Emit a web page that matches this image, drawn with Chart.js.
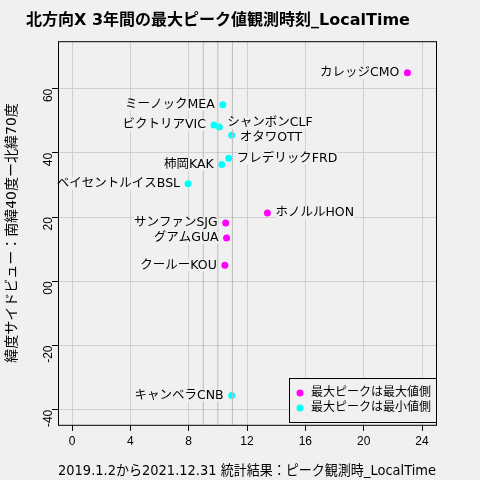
<!DOCTYPE html>
<html><head><meta charset="utf-8">
<script src="https://cdn.jsdelivr.net/npm/chart.js@4"></script>
<style>html,body{margin:0;background:#f0f0f0}canvas{display:block}</style>
</head><body>
<canvas id="c" width="480" height="480"></canvas>
<script>
const names = ['カレッジCMO','ミーノックMEA','ビクトリアVIC','シャンボンCLF','オタワOTT','フレデリックFRD','柿岡KAK','ベイセントルイスBSL','ホノルルHON','サンファンSJG','グアムGUA','クールーKOU','キャンベラCNB'];
const hours = [23.0,10.34,9.73,10.1,10.95,10.75,10.27,7.96,13.4,10.54,10.6,10.48,10.95];
const lats = [65.0,55.0,48.7,48.1,45.5,38.3,36.4,30.4,21.3,18.2,13.5,5.0,-35.6];
const isMax = [1,0,0,0,0,0,0,0,1,1,1,1,0];
const side = ['L','L','L','R','R','R','L','L','R','L','L','L','L'];
const refHours = [9,10,11];
const xTicks = [0,4,8,12,16,20,24];
const yTicks = [-40,-20,0,20,40,60];
const yTickText = {'-40':'-40','-20':'-20','0':'00','20':'20','40':'40','60':'60'};
const nudge = {'シャンボンCLF':[0,-4],'オタワOTT':[0,2]};

const pts = hours.map((h,i)=>({x:h,y:lats[i],n:names[i],s:side[i]}));
const refSets = refHours.map(h=>({type:'line',data:[{x:h,y:-100},{x:h,y:100}],borderColor:'#bbbbbb',borderWidth:1,pointRadius:0,showLine:true}));

const labelPlugin = {
  id:'lbl',
  afterDatasetsDraw(chart){
    const ctx=chart.ctx;
    ctx.save();
    ctx.font='12.5px "DejaVu Sans","Noto Sans CJK JP"';
    ctx.textBaseline='middle';
    chart.data.datasets.forEach((ds,di)=>{
      if(!ds.lbl) return;
      chart.getDatasetMeta(di).data.forEach((el,j)=>{
        const p=ds.data[j];
        const d=nudge[p.n]||[0,0];
        ctx.textAlign=p.s==='L'?'right':'left';
        const tx=el.x+(p.s==='L'?-8:8)+d[0], ty=el.y+d[1];
        const w=ctx.measureText(p.n).width;
        ctx.fillStyle='#f0f0f0';
        ctx.fillRect(p.s==='L'?tx-w:tx, ty-6, w, 12);
        ctx.fillStyle='#000';
        ctx.fillText(p.n, tx, ty);
      });
    });
    const a=chart.chartArea;
    ctx.strokeStyle='#000';ctx.lineWidth=1;
    ctx.strokeRect(a.left+0.5,a.top+0.5,a.right-a.left,a.bottom-a.top);
    const lx=289,ly=378,lw=147,lh=44;
    ctx.fillStyle='#f0f0f0';ctx.fillRect(lx,ly,lw,lh);
    ctx.strokeStyle='#000';ctx.strokeRect(lx+0.5,ly+0.5,lw,lh);
    ctx.font='12px "DejaVu Sans","Noto Sans CJK JP"';
    [['#ff00ff','最大ピークは最大値側'],['#00ffff','最大ピークは最小値側']].forEach((e,k)=>{
      const yy=ly+15+k*15;
      ctx.fillStyle=e[0];ctx.beginPath();ctx.arc(lx+11,yy,3.5,0,Math.PI*2);ctx.fill();
      ctx.fillStyle='#000';ctx.textAlign='left';ctx.fillText(e[1],lx+22,yy);
    });
    ctx.restore();
  }
};

new Chart(document.getElementById('c'),{
  type:'scatter',
  data:{datasets:[
    ...refSets,
    {data:pts.filter((p,i)=>isMax[i]),backgroundColor:'#ff00ff',borderWidth:0,pointRadius:3.5,lbl:true},
    {data:pts.filter((p,i)=>!isMax[i]),backgroundColor:'#00ffff',borderWidth:0,pointRadius:3.5,lbl:true}
  ]},
  options:{
    responsive:false,animation:false,
    layout:{padding:{left:0,right:44,top:0,bottom:0}},
    plugins:{legend:{display:false},tooltip:{enabled:false},
      title:{display:true,text:'北方向X 3年間の最大ピーク値観測時刻_LocalTime',color:'#000',font:{size:16,weight:'bold',family:'"DejaVu Sans","Noto Sans CJK JP"'},padding:{top:11,bottom:11}}},
    scales:{
      x:{type:'linear',min:-0.96,max:24.96,
        afterBuildTicks(s){s.ticks=xTicks.map(v=>({value:v}));},
        grid:{color:'#d0d0d0',drawTicks:true,tickColor:'#000',tickLength:6},border:{display:false},
        ticks:{color:'#000',font:{size:12},padding:4},
        title:{display:true,text:'2019.1.2から2021.12.31 統計結果：ピーク観測時_LocalTime',color:'#000',font:{size:14,family:'"DejaVu Sans","Noto Sans CJK JP"'},padding:{top:10,bottom:0}}},
      y:{type:'linear',min:-44.7,max:74.8,
        afterBuildTicks(s){s.ticks=yTicks.map(v=>({value:v}));},
        afterFit(s){s.width=58;},
        grid:{color:'#d0d0d0',tickColor:'#000',tickLength:6},border:{display:false},
        ticks:{color:'#000',font:{size:12},maxRotation:90,minRotation:90,callback:v=>yTickText[String(v)]},
        title:{display:true,text:'緯度サイドビュー：南緯40度ー北緯70度',color:'#000',font:{size:14,family:'"DejaVu Sans","Noto Sans CJK JP"'}}}
    }
  },
  plugins:[labelPlugin]
});
</script>
</body></html>
